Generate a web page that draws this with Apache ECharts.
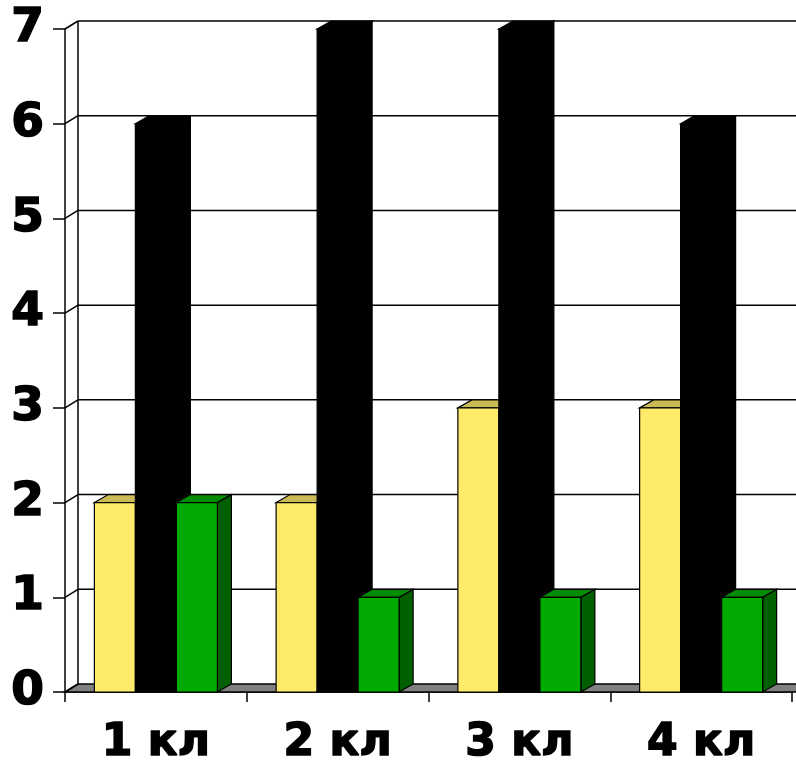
<!DOCTYPE html>
<html>
<head>
<meta charset="utf-8">
<script src="https://cdn.jsdelivr.net/npm/echarts@6/dist/echarts.min.js"></script>
<style>
html,body{margin:0;padding:0;background:#fff;}
#chart{width:796px;height:765px;}
</style>
</head>
<body>
<div id="chart"></div>
<script>
const categories = ['1 кл', '2 кл', '3 кл', '4 кл'];
const yellowValues = [2, 2, 3, 3];
const blackValues = [6, 7, 7, 6];
const greenValues = [2, 1, 1, 1];
const yTicks = [0, 1, 2, 3, 4, 5, 6, 7];

const WDX = 13, WDY = -8;   // wall depth offset
const BDX = 14, BDY = -8;   // bar depth offset
const BAR_FRAC = 0.2256;    // bar width as fraction of category width

function barRenderer(idx, front, top, side) {
  return function (params, api) {
    const c = api.value(0), v = api.value(1);
    const base = api.coord([c, 0]);
    const tip = api.coord([c, v]);
    const cw = api.size([1, 0])[0];
    const bw = cw * BAR_FRAC;
    const xl = base[0] - 1.5 * bw + idx * bw;
    const xr = xl + bw;
    const yb = base[1], yt = tip[1];
    return {
      type: 'group',
      children: [
        { type: 'polygon', shape: { points: [[xr, yt], [xr + BDX, yt + BDY], [xr + BDX, yb + BDY], [xr, yb]] },
          style: { fill: side, stroke: '#000', lineWidth: 1.2 } },
        { type: 'polygon', shape: { points: [[xl, yt], [xl + BDX, yt + BDY], [xr + BDX, yt + BDY], [xr, yt]] },
          style: { fill: top, stroke: '#000', lineWidth: 1.2 } },
        { type: 'rect', shape: { x: xl, y: yt, width: bw, height: yb - yt },
          style: { fill: front, stroke: '#000', lineWidth: 1.2 } }
      ]
    };
  };
}

function wallRenderer(params, api) {
  const v = api.value(0);
  const cs = params.coordSys;
  const p = api.coord([0, v]);
  const y = p[1];
  const x0 = cs.x, x1 = cs.x + cs.width + 30;
  const children = [];
  if (v === 0) {
    children.push({ type: 'polygon', z2: 0,
      shape: { points: [[x0, y], [x1, y], [x1 + WDX, y + WDY], [x0 + WDX, y + WDY]] },
      style: { fill: '#808080', stroke: '#000', lineWidth: 1.5 } });
    const top = api.coord([0, yTicks[yTicks.length - 1]])[1];
    children.push({ type: 'line', z2: 1,
      shape: { x1: x0 + WDX, y1: y + WDY, x2: x0 + WDX, y2: top + WDY },
      style: { stroke: '#000', lineWidth: 1.5 } });
  } else {
    children.push({ type: 'line', z2: 1,
      shape: { x1: x0 + WDX, y1: y + WDY, x2: x1 + WDX, y2: y + WDY },
      style: { stroke: '#000', lineWidth: 1.5 } });
  }
  children.push({ type: 'line', z2: 1,
    shape: { x1: x0, y1: y, x2: x0 + WDX, y2: y + WDY },
    style: { stroke: '#000', lineWidth: 1.5 } });
  return { type: 'group', children: children };
}

const chart = echarts.init(document.getElementById('chart'), null, { renderer: 'canvas' });
const toData = arr => categories.map((c, i) => [i, arr[i]]);

chart.setOption({
  animation: false,
  backgroundColor: '#ffffff',
  grid: { left: 65, right: 4, top: 29, bottom: 73, containLabel: false, outerBoundsMode: 'none' },
  xAxis: {
    type: 'category',
    data: categories,
    boundaryGap: true,
    axisLine: { show: true, lineStyle: { color: '#000', width: 1.5 } },
    axisTick: { show: true, length: 10, inside: false, lineStyle: { color: '#000', width: 1.5 } },
    axisLabel: { color: '#000', fontFamily: 'DejaVu Sans', fontWeight: 'bold', fontSize: 44, margin: 30,
      textBorderColor: '#000', textBorderWidth: 1.6 },
    splitLine: { show: false }
  },
  yAxis: {
    type: 'value',
    min: 0, max: 7, interval: 1,
    axisLine: { show: true, lineStyle: { color: '#000', width: 1.5 } },
    axisTick: { show: true, length: 12, inside: false, lineStyle: { color: '#000', width: 1.5 } },
    axisLabel: { color: '#000', fontFamily: 'DejaVu Sans', fontWeight: 'bold', fontSize: 47, margin: 21,
      textBorderColor: '#000', textBorderWidth: 1.6 },
    splitLine: { show: false }
  },
  series: [
    { type: 'custom', name: 'wall', z: 1, silent: true, clip: false,
      data: yTicks.map(t => [t]), encode: { y: 0 }, renderItem: wallRenderer },
    { type: 'custom', name: 'Ряд 1', z: 2, clip: false, data: toData(yellowValues),
      encode: { x: 0, y: 1 }, renderItem: barRenderer(0, '#FFEB6B', '#C9BA55', '#B8A840') },
    { type: 'custom', name: 'Ряд 2', z: 2, clip: false, data: toData(blackValues),
      encode: { x: 0, y: 1 }, renderItem: barRenderer(1, '#000000', '#000000', '#000000') },
    { type: 'custom', name: 'Ряд 3', z: 2, clip: false, data: toData(greenValues),
      encode: { x: 0, y: 1 }, renderItem: barRenderer(2, '#00AA00', '#008C00', '#006000') }
  ]
});
</script>
</body>
</html>
